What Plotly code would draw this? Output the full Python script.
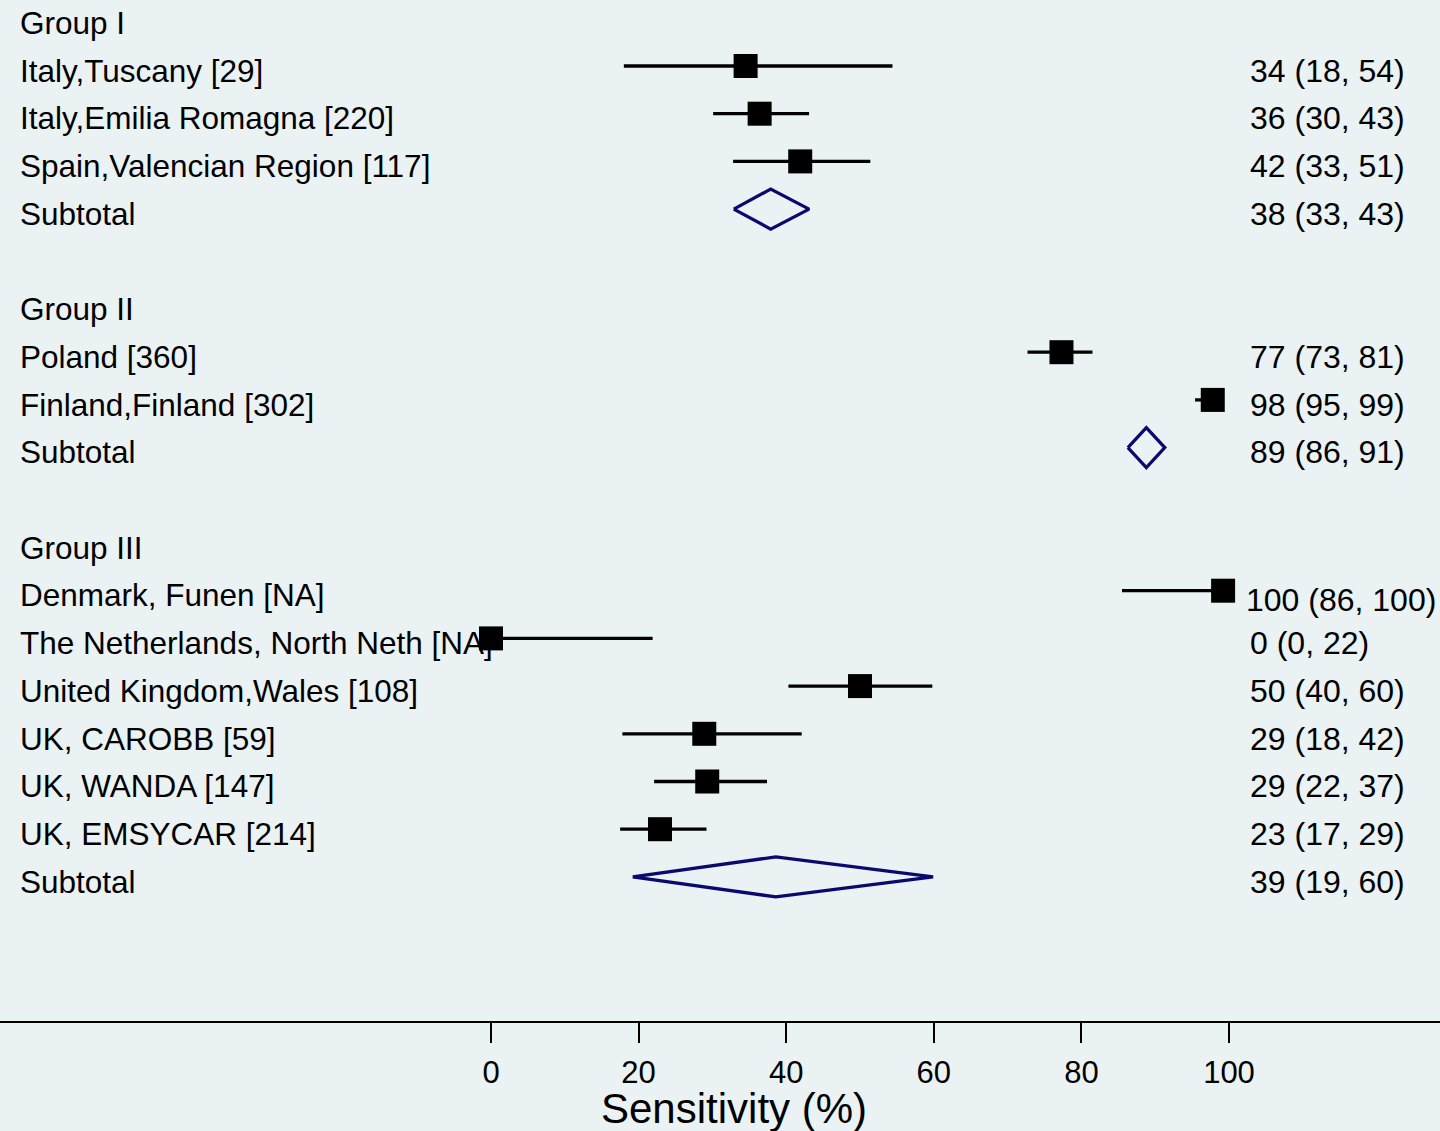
import plotly.graph_objects as go

# ---------------- data ----------------
left_labels = [
    "Group I", "Italy,Tuscany [29]", "Italy,Emilia Romagna [220]",
    "Spain,Valencian Region [117]", "Subtotal", "",
    "Group II", "Poland [360]", "Finland,Finland [302]", "Subtotal", "",
    "Group III", "Denmark, Funen [NA]", "The Netherlands, North Neth [NA]",
    "United Kingdom,Wales [108]", "UK, CAROBB [59]", "UK, WANDA [147]",
    "UK, EMSYCAR [214]", "Subtotal",
]

study_rows = [1, 2, 3, 7, 8, 12, 13, 14, 15, 16, 17]
study_est = [34.5, 36.4, 41.9, 77.3, 97.8, 99.2, 0.0, 50.0, 28.9, 29.3, 22.9]
study_lo = [18.0, 30.1, 32.8, 72.7, 95.4, 85.5, 0.0, 40.3, 17.8, 22.1, 17.5]
study_hi = [54.4, 43.1, 51.4, 81.5, 99.0, 100.0, 21.9, 59.8, 42.1, 37.4, 29.2]
study_text = ["34 (18, 54)", "36 (30, 43)", "42 (33, 51)", "77 (73, 81)",
              "98 (95, 99)", "100 (86, 100)", "0 (0, 22)", "50 (40, 60)",
              "29 (18, 42)", "29 (22, 37)", "23 (17, 29)"]

sub_rows = [4, 9, 18]
sub_est = [37.9, 88.8, 38.6]
sub_lo = [32.9, 86.3, 19.2]
sub_hi = [43.1, 91.3, 59.9]
sub_text = ["38 (33, 43)", "89 (86, 91)", "39 (19, 60)"]

x_ticks = [0, 20, 40, 60, 80, 100]
x_title = "Sensitivity (%)"

# ---------------- styling ----------------
BG = "#EAF2F3"
NAVY = "#0A0A6E"
FONT = "Liberation Sans, Arial, sans-serif"
W, H = 1440, 1131
MB = 110
PLOT_H = H - MB
ROW_PX = 47.7
ROW0_PX = 18.3
TEXT_OFF = 0.1
DIAMOND_HALF = 0.42

fig = go.Figure()

# study CIs + squares
fig.add_trace(go.Scatter(
    x=study_est, y=study_rows, mode="markers",
    marker=dict(symbol="square", size=24, color="black", line=dict(width=0)),
    error_x=dict(type="data", symmetric=False,
                 array=[h - e for h, e in zip(study_hi, study_est)],
                 arrayminus=[e - l for e, l in zip(study_est, study_lo)],
                 color="black", thickness=3.3, width=0),
    showlegend=False, hoverinfo="skip",
))

# subtotal diamonds
dx, dy = [], []
for r, e, lo, hi in zip(sub_rows, sub_est, sub_lo, sub_hi):
    dx += [lo, e, hi, e, lo, None]
    dy += [r, r - DIAMOND_HALF, r, r + DIAMOND_HALF, r, None]
fig.add_trace(go.Scatter(
    x=dx, y=dy, mode="lines", line=dict(color=NAVY, width=3.3),
    showlegend=False, hoverinfo="skip",
))

annotations = []
for i, lab in enumerate(left_labels):
    if not lab:
        continue
    annotations.append(dict(
        text=lab, xref="paper", yref="y", x=18 / W, y=i + TEXT_OFF,
        xanchor="left", yanchor="middle", showarrow=False,
        font=dict(family=FONT, size=31.5, color="black"),
    ))
for r, t in zip(study_rows + sub_rows, study_text + sub_text):
    long_lab = len(t) > 11
    annotations.append(dict(
        text=t, xref="paper", yref="y",
        x=(1244 if long_lab else 1248) / W,
        y=r + (0.2 if long_lab else TEXT_OFF),
        xanchor="left", yanchor="middle", showarrow=False,
        font=dict(family=FONT, size=32, color="black"),
    ))
annotations.append(dict(
    text=x_title, xref="paper", yref="paper", x=734 / W,
    y=-(1108 - PLOT_H) / PLOT_H, xanchor="center", yanchor="middle",
    showarrow=False, font=dict(family=FONT, size=42, color="black"),
))

x_per_px = 100 / (1229 - 491)
xr = [-491 * x_per_px, (W - 491) * x_per_px]
yr = [(PLOT_H - ROW0_PX) / ROW_PX, -ROW0_PX / ROW_PX]

fig.update_layout(
    width=W, height=H,
    margin=dict(l=0, r=0, t=0, b=MB, pad=0),
    paper_bgcolor=BG, plot_bgcolor=BG,
    annotations=annotations,
    xaxis=dict(range=xr, tickvals=x_ticks, ticks="outside", ticklen=20,
               tickwidth=2, tickcolor="black", showline=True, linewidth=2,
               linecolor="black", showgrid=False, zeroline=False,
               tickfont=dict(family=FONT, size=31, color="black"),
               ticklabelstandoff=3, fixedrange=True),
    yaxis=dict(range=yr, visible=False, showgrid=False, zeroline=False,
               fixedrange=True),
)

fig.write_html(
    "out.html",
    config={"displayModeBar": False},
    post_script="document.body.style.margin='0';document.body.style.background='" + BG + "';",
)
